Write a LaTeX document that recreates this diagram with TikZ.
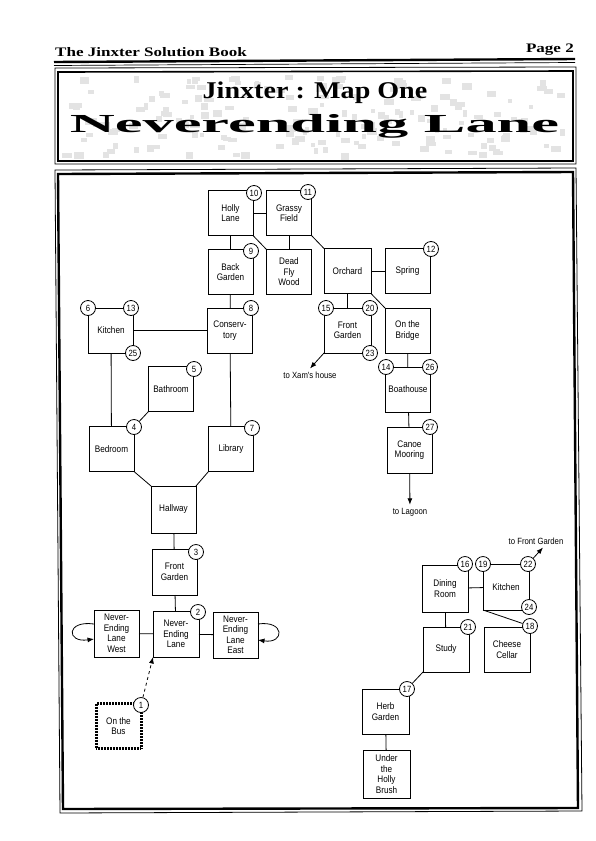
\documentclass[tikz,border=0pt]{standalone}
\usepackage{fontspec}
\usetikzlibrary{arrows.meta}
\setmainfont{Liberation Sans}
\newfontfamily\roomfont[FakeStretch=0.86]{Liberation Sans}
\newfontfamily\headfont[FakeStretch=1.31]{Liberation Serif}
\newfontfamily\titlefont[FakeStretch=1.17]{Liberation Serif}
\newfontfamily\widefont[FakeStretch=2.4]{Liberation Serif}
\tikzset{
  room/.style={draw, line width=0.8pt, align=center, inner sep=0pt, outer sep=0pt,
    minimum width=45pt, minimum height=45pt, font=\roomfont\fontsize{9.5}{10.5}\selectfont},
  num/.style={draw, circle, fill=white, line width=0.8pt, inner sep=0pt, minimum size=15pt,
    font=\roomfont\fontsize{9}{9}\selectfont},
  note/.style={inner sep=3pt, font=\roomfont\fontsize{9}{10}\selectfont},
  link/.style={line width=0.8pt},
  away/.style={line width=0.8pt, -{Latex[length=6.5pt,width=5pt]}},
  patch/.style={fill=gray!22}
}
\begin{document}
\begin{tikzpicture}[x=1pt,y=-1pt]
\useasboundingbox (0,0) rectangle (595,841);
% heading
\node[anchor=base west, inner sep=0pt, font=\headfont\bfseries\fontsize{13}{14}\selectfont] (book) at (55,56) {The Jinxter Solution Book};
\node[anchor=base east, inner sep=0pt, font=\headfont\bfseries\fontsize{13}{14}\selectfont] (page) at (574,52) {Page 2};
\draw[line width=2.4pt] (54,62) -- (575,59);
\draw[line width=0.7pt] (54,65.5) -- (575,62.5);
% banner
\pgfmathsetseed{7}
\foreach \i in {1,...,170}
  \fill[patch] ({random(62,562)},{random(75,153)}) rectangle ++({random(4,10)},{random(4,7)});
\draw[line width=0.8pt] (55,68) -- (576,67) -- (576,164) -- (55,164) -- cycle;
\draw[line width=1.6pt] (58,72) -- (573,71) -- (573,161) -- (58,161) -- cycle;
\node[inner sep=0pt, font=\titlefont\bfseries\fontsize{24}{26}\selectfont] (title) at (315,93) {Jinxter : Map One};
\node[anchor=base, inner sep=0pt, font=\widefont\bfseries\fontsize{26}{28}\selectfont] (lane) at (314.5,132) {Neverending Lane};
% map frame
\draw[line width=0.8pt] (55,170) -- (576,168) -- (582,811) -- (60,813) -- cycle;
\draw[line width=2.4pt] (58,174) -- (573,172) -- (578,808) -- (63,809) -- cycle;
% rooms, first part
\node[room] (holly) at (230.5,213) {Holly\\Lane};
\node[room] (grassy) at (289,213) {Grassy\\Field};
\node[room] (back) at (230.5,272) {Back\\Garden};
\node[room] (dead) at (289,272) {Dead\\Fly\\Wood};
\node[room] (cons) at (230,330.5) {Conserv-\\tory};
\node[room] (kitchen) at (111,330.5) {Kitchen};
\node[room] (bath) at (171,389) {Bathroom};
\node[room] (bed) at (111.5,449) {Bedroom};
\node[room] (library) at (231,449) {Library};
\node[room, minimum height=47pt] (hall) at (173.5,509.5) {Hallway};
\node[room, minimum height=46pt] (front) at (174.5,572) {Front\\Garden};
\node[room, minimum width=46pt, minimum height=46pt] (never) at (176,634) {Never-\\Ending\\Lane};
\node[room, minimum height=47pt] (west) at (116.5,633.5) {Never-\\Ending\\Lane\\West};
\node[room, minimum height=46pt] (east) at (235.5,635) {Never-\\Ending\\Lane\\East};
\node[room, line width=3pt, dash pattern=on 1pt off 0.5pt] (bus) at (118.5,726) {On the\\Bus};
\node[room, minimum width=47pt] (orchard) at (347.5,271) {Orchard};
\node[room] (spring) at (407.5,271) {Spring};
\node[room, minimum width=47pt] (garden) at (347.5,330.5) {Front\\Garden};
\node[room] (bridge) at (407.5,330.5) {On the\\Bridge};
\node[room] (boat) at (408,389.5) {Boathouse};
\node[room, minimum height=46pt] (canoe) at (409.5,450) {Canoe\\Mooring};
% rooms, second part
\node[room, minimum width=46pt, minimum height=47pt] (dining) at (445,588.5) {Dining\\Room};
\node[room, minimum width=46pt, minimum height=46pt] (kitchenb) at (506,587) {Kitchen};
\node[room, minimum width=46pt] (study) at (446,649.5) {Study};
\node[room, minimum width=46pt] (cellar) at (507,649.5) {Cheese\\Cellar};
\node[room, minimum width=47pt] (herb) at (385.5,711.5) {Herb\\Garden};
\node[room, minimum width=47pt, minimum height=48pt] (under) at (386.5,774) {Under\\the\\Holly\\Brush};
% labels
\node[note] (xam) at (310,375) {to Xam's house};
\node[note] (lagoon) at (410,512) {to Lagoon};
\node[note] (tofront) at (536,541) {to Front Garden};
% numbers
\node[num] (n1) at (141,705) {1};
\node[num] (n2) at (198,612) {2};
\node[num] (n3) at (196,552) {3};
\node[num] (n4) at (134,427) {4};
\node[num] (n5) at (194,369) {5};
\node[num] (n6) at (88,308) {6};
\node[num] (n7) at (252,428) {7};
\node[num] (n8) at (251,308) {8};
\node[num] (n9) at (251,251) {9};
\node[num] (n10) at (254,193) {10};
\node[num] (n11) at (308,192) {11};
\node[num] (n12) at (431,249) {12};
\node[num] (n13) at (131,308) {13};
\node[num] (n14) at (386,367) {14};
\node[num] (n15) at (326,308) {15};
\node[num] (n16) at (465,564) {16};
\node[num] (n17) at (407,689) {17};
\node[num] (n18) at (530,626) {18};
\node[num] (n19) at (483,564) {19};
\node[num] (n20) at (370,308) {20};
\node[num] (n21) at (468,627) {21};
\node[num] (n22) at (528,564) {22};
\node[num] (n23) at (370,353) {23};
\node[num] (n24) at (529,607) {24};
\node[num] (n25) at (133,353) {25};
\node[num] (n26) at (430,367) {26};
\node[num] (n27) at (430,427) {27};
% connections
\draw[link] (holly) -- (grassy);
\draw[link] (holly) -- (back);
\draw[link] (back) -- (cons);
\draw[link] (cons) -- (library);
\draw[link] (cons) -- (kitchen);
\draw[link] (kitchen) -- (bed);
\draw[link] (grassy) -- (dead);
\draw[link] (holly.south east) -- (dead.north west);
\draw[link] (grassy.south east) -- (orchard.north west);
\draw[link] (orchard) -- (spring);
\draw[link] (orchard) -- (garden);
\draw[link] (orchard.south east) -- (bridge.north west);
\draw[link] (bridge) -- (boat);
\draw[link] (boat) -- (canoe);
\draw[link] (bath.south west) -- (n4);
\draw[link] (bed.south east) -- (hall.north west);
\draw[link] (library.south west) -- (hall.north east);
\draw[link] (hall) -- (front);
\draw[link] (front) -- (never);
\draw[link] (west) -- (never);
\draw[link] (never) -- (east);
\draw[link] (dining) -- (kitchenb);
\draw[link] (dining) -- (study);
\draw[link] (kitchenb.south west) -- (n18);
\draw[link] (study.south west) -- (n17);
\draw[link] (herb) -- (under);
\draw[away] (garden.south west) -- (xam.north);
\draw[away] (canoe) -- (lagoon);
\draw[away] (n22) -- ([xshift=7pt]tofront.south);
\draw[away, dashed] (n1) -- (never.south west);
% loops
\coordinate (westa) at (94,624);
\coordinate (westb) at (94,639);
\coordinate (easta) at (258,624);
\coordinate (eastb) at (258,640);
\draw[away] (westa) .. controls (66,620) and (66,643) .. (westb);
\draw[away] (easta) .. controls (285,620) and (285,644) .. (eastb);
\end{tikzpicture}
\end{document}
